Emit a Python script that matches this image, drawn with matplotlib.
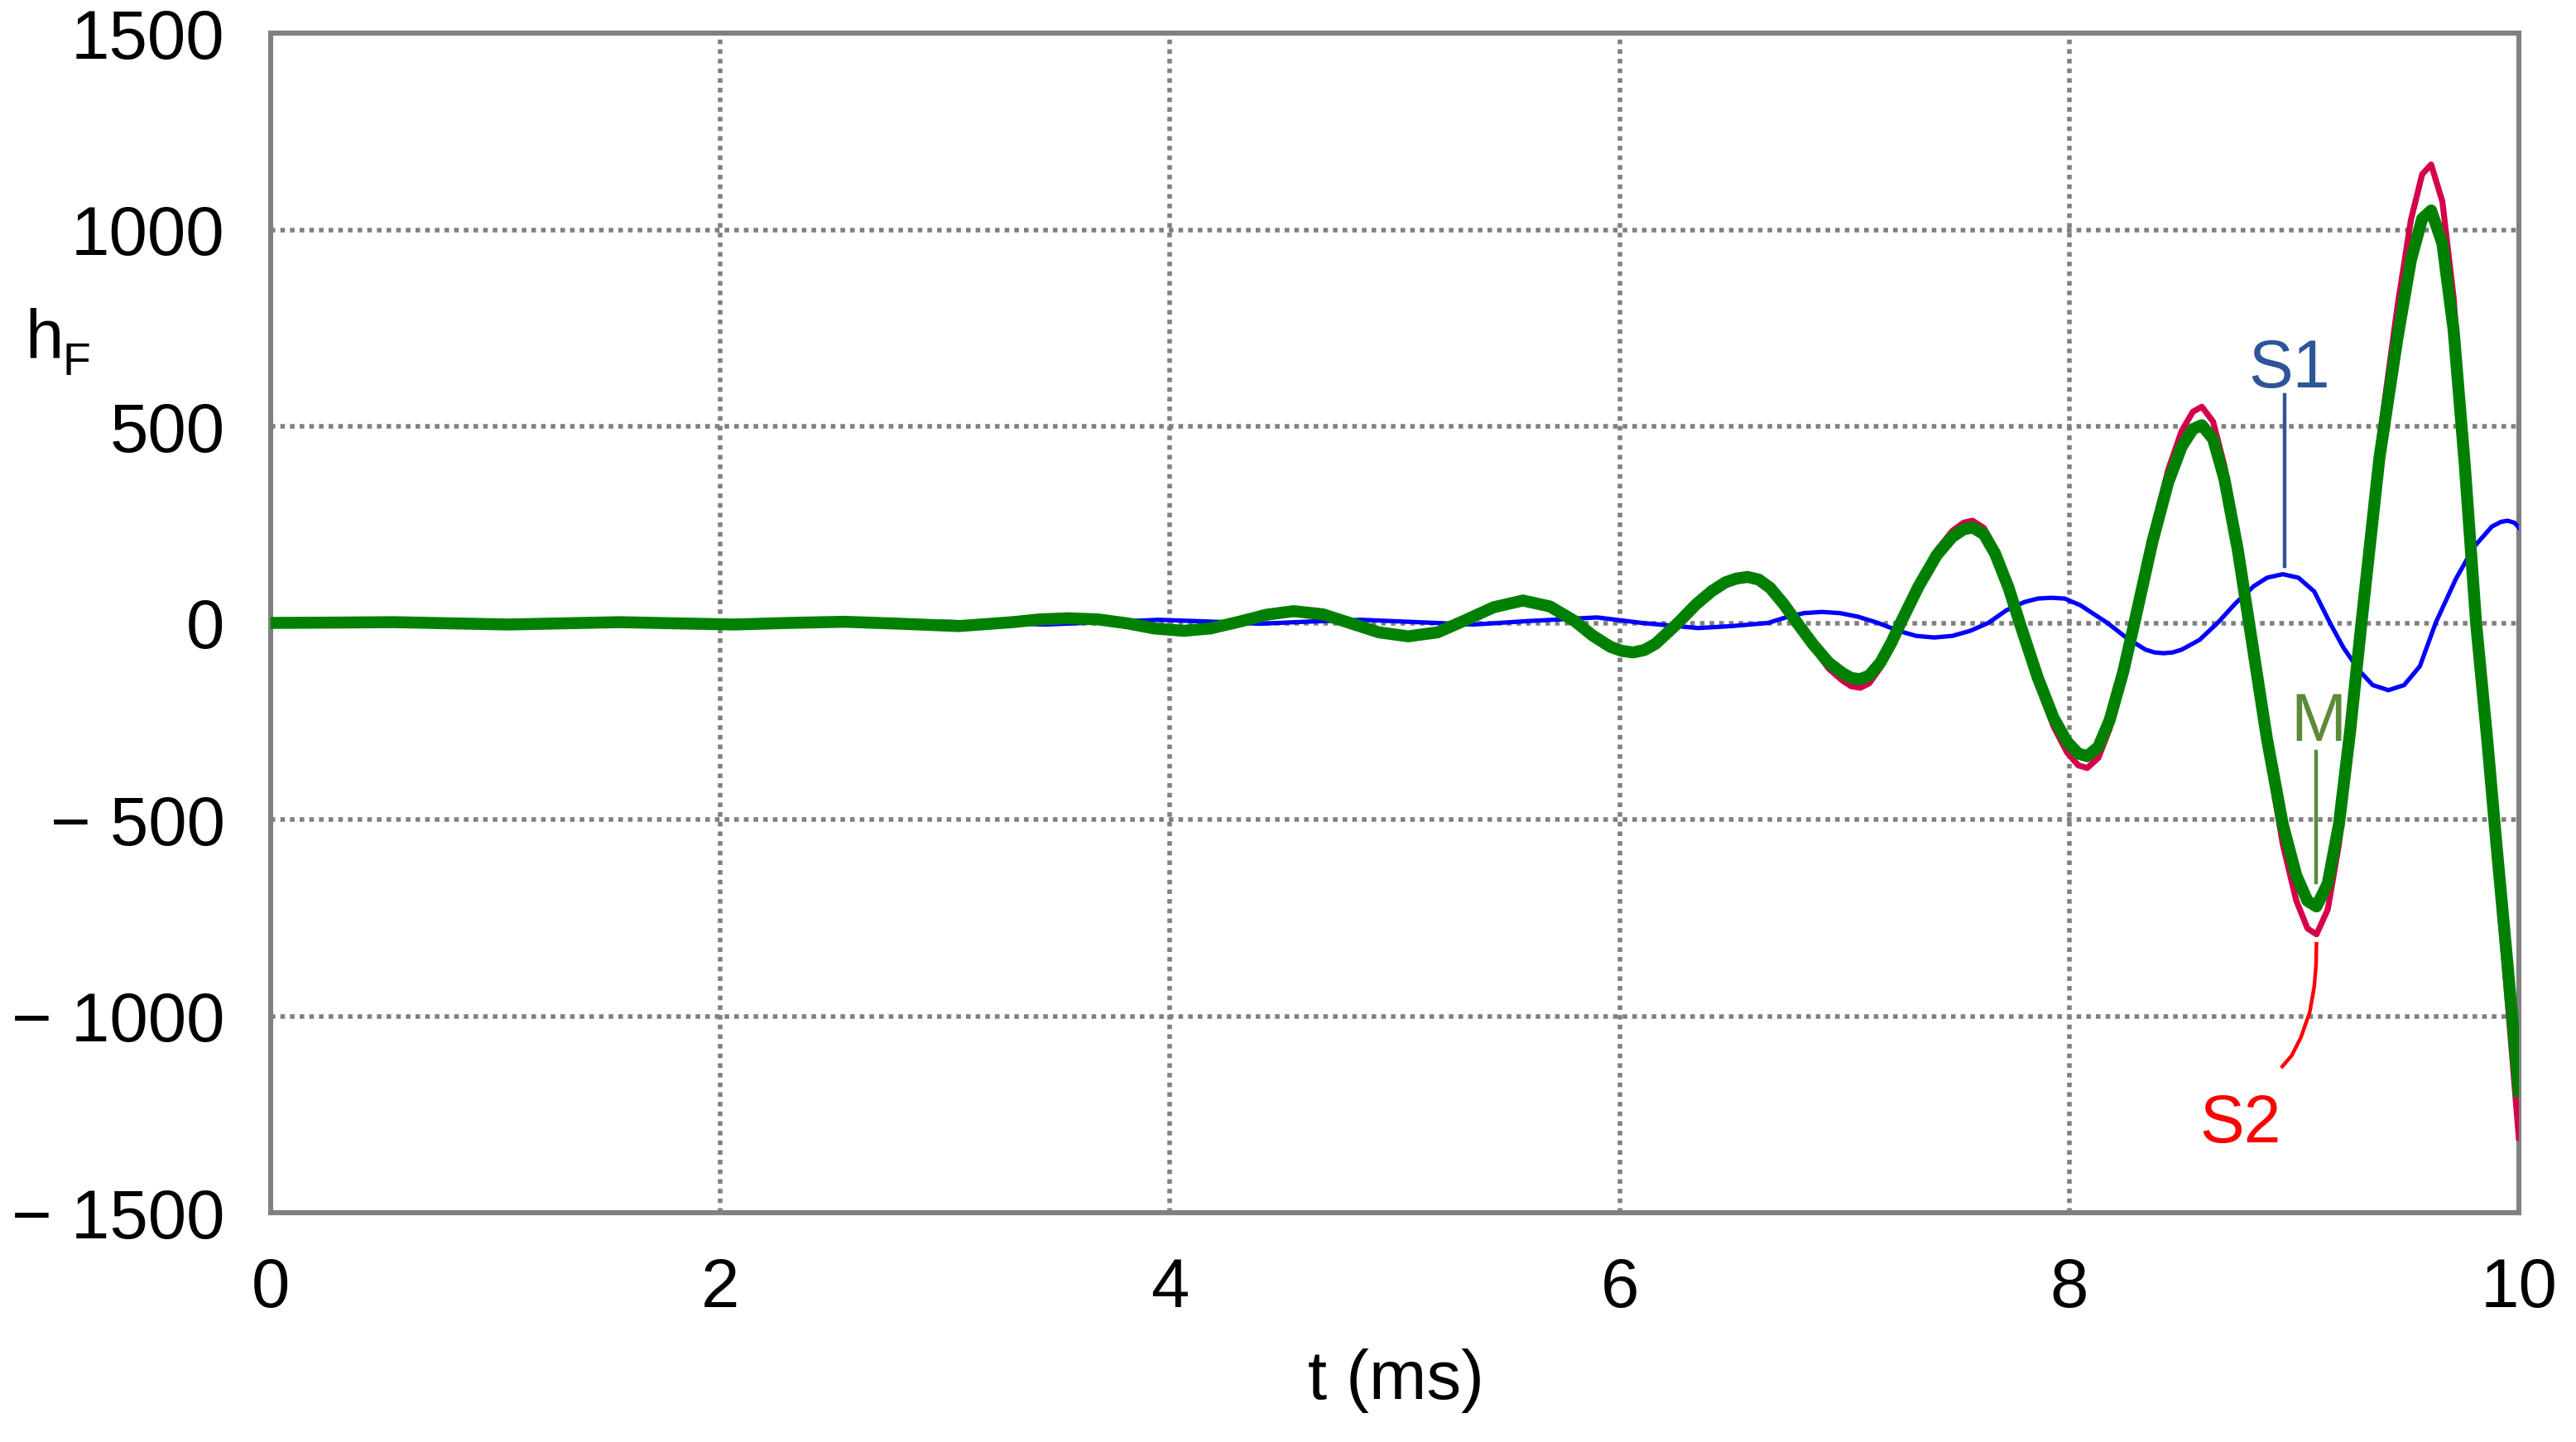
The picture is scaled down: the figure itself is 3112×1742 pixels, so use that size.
import matplotlib
matplotlib.use('Agg')
import matplotlib.pyplot as plt

plt.rcParams['font.family'] = ['Liberation Sans', 'DejaVu Sans']

# --- data (t in ms, h_F) ---
# M (thick green) and S2 (thin red) share the same sample times
t_m = [0.00, 0.30, 0.55, 0.80, 1.06, 1.30, 1.55, 1.80, 2.06, 2.30, 2.55, 2.80,
       3.06, 3.30, 3.42, 3.55, 3.68, 3.81, 3.93, 4.06, 4.18, 4.30, 4.43, 4.55,
       4.68, 4.80, 4.93, 5.06, 5.19, 5.31, 5.44, 5.57, 5.69, 5.80, 5.88, 5.96,
       6.01, 6.06, 6.11, 6.16, 6.26, 6.34, 6.41, 6.47, 6.52, 6.57, 6.62, 6.67,
       6.73, 6.79, 6.86, 6.93, 6.99, 7.03, 7.07, 7.11, 7.16, 7.21, 7.25, 7.33,
       7.41, 7.48, 7.53, 7.57, 7.62, 7.67, 7.73, 7.78, 7.86, 7.93, 7.99, 8.04,
       8.08, 8.13, 8.18, 8.24, 8.29, 8.37, 8.44, 8.50, 8.55, 8.59, 8.64, 8.69,
       8.75, 8.80, 8.88, 8.95, 9.01, 9.06, 9.10, 9.15, 9.20, 9.25, 9.30, 9.38,
       9.46, 9.52, 9.57, 9.61, 9.66, 9.71, 9.76, 9.81, 9.86, 9.90, 9.95, 10.0]
h_m = [0, 1, 2, -1, -4, -1, 2, -1, -4, 0, 3, -2,
       -8, 2, 9, 12, 9, -1, -14, -20, -14, 2, 21, 30,
       22, 0, -24, -34, -24, 6, 40, 57, 42, 5, -32, -61,
       -71, -75, -69, -53, 0, 47, 81, 103, 113, 117, 110, 89,
       48, 0, -54, -101, -127, -140, -143, -134, -101, -49, 0, 93,
       172, 219, 238, 243, 226, 177, 90, 0, -139, -241, -302, -332,
       -339, -315, -247, -125, 0, 206, 357, 448, 493, 503, 468, 367,
       186, 0, -296, -512, -642, -707, -721, -663, -512, -274, 0, 420,
       724, 923, 1028, 1049, 965, 745, 399, 0, -300, -560, -870, -1191]
h_s2 = [0, 1, 2, -1, -4, -1, 2, -1, -4, 0, 3, -2,
        -8, 2, 9, 12, 9, -1, -14, -20, -14, 2, 21, 30,
        22, 0, -24, -34, -24, 6, 40, 58, 43, 5, -34, -63,
        -74, -78, -72, -55, 0, 49, 85, 108, 119, 123, 116, 94,
        52, 0, -62, -116, -146, -161, -165, -154, -114, -54, 0, 100,
        184, 234, 255, 260, 242, 190, 97, 0, -151, -263, -329, -362,
        -369, -343, -269, -136, 0, 225, 389, 488, 537, 550, 512, 401,
        203, 0, -325, -563, -706, -777, -792, -729, -563, -301, 0, 466,
        804, 1025, 1141, 1166, 1072, 827, 443, 0, -340, -620, -960, -1309]

# S1 (thin blue)
t_s1 = [0.0, 2.8, 3.0, 3.2, 3.45, 3.7, 3.95, 4.2, 4.4, 4.6, 4.85, 5.1,
        5.35, 5.6, 5.9, 6.1, 6.35, 6.5, 6.66, 6.75, 6.82, 6.90, 6.98, 7.06,
        7.15, 7.24, 7.32, 7.40, 7.48, 7.56, 7.64, 7.72, 7.80, 7.86, 7.92, 7.98,
        8.05, 8.17, 8.26, 8.34, 8.38, 8.42, 8.46, 8.50, 8.58, 8.66, 8.74, 8.82,
        8.88, 8.95, 9.02, 9.09, 9.16, 9.22, 9.29, 9.35, 9.42, 9.49, 9.56, 9.63,
        9.72, 9.80, 9.88, 9.92, 9.95, 9.98, 10.0]
h_s1 = [0, 0, 3, 0, -4, 2, 8, 3, -2, 3, 8, 2,
        -4, 5, 14, 0, -13, -8, 0, 16, 25, 28, 25, 16,
        0, -20, -33, -37, -33, -20, 0, 32, 53, 62, 64, 62,
        45, 0, -40, -68, -75, -77, -75, -68, -43, 0, 50, 93,
        115, 124, 115, 80, 0, -63, -121, -158, -171, -158, -110, 0,
        112, 193, 245, 257, 260, 255, 243]

x_ticks = [0, 2, 4, 6, 8, 10]
y_ticks = [-1500, -1000, -500, 0, 500, 1000, 1500]
y_tick_labels = ['\u2212 1500', '\u2212 1000', '\u2212 500', '0', '500', '1000', '1500']

fig = plt.figure(figsize=(15.56, 8.71), dpi=200)
ax = fig.add_axes([0.1051, 0.1590, 0.8727, 0.8180])

ax.plot(t_s1, h_s1, color='#0000ff', lw=1.9, zorder=3, solid_joinstyle='round')
ax.plot(t_m, h_s2, color='#d4004c', lw=2.6, zorder=4, solid_joinstyle='round')
ax.plot(t_m, h_m, color='#008000', lw=5.2, zorder=5, solid_joinstyle='round')

ax.set_xlim(0, 10)
ax.set_ylim(-1500, 1500)
ax.set_xticks(x_ticks)
ax.set_yticks(y_ticks)
ax.set_yticklabels(y_tick_labels)
ax.tick_params(length=0, labelsize=30)
ax.tick_params(axis='y', pad=20)
ax.tick_params(axis='x', pad=19)

ax.grid(True, color='#808080', linestyle=(0, (1, 1.1)), linewidth=2.0)
for s in ax.spines.values():
    s.set_color('#808080')
    s.set_linewidth(2.2)

# annotations
ax.text(8.98, 600, 'S1', color='#2e5597', fontsize=29, ha='center', va='baseline')
ax.plot([8.96, 8.96], [580, 145], color='#2e5597', lw=1.6)
ax.text(9.11, -300, 'M', color='#5b8a3b', fontsize=29, ha='center', va='baseline')
ax.plot([9.10, 9.10], [-328, -660], color='#5b8a3b', lw=1.6)
ax.text(8.76, -1322, 'S2', color='#ff0000', fontsize=29, ha='center', va='baseline')
ax.plot([9.100, 9.098, 9.09, 9.07, 9.03, 8.99, 8.948],
        [-816, -870, -925, -990, -1055, -1100, -1128], color='#ff0000', lw=1.6)

# axis labels
fig.text(30 / 3112, 1 - 433 / 1742, 'h', fontsize=30, ha='left', va='baseline')
fig.text(76 / 3112, 1 - 453 / 1742, 'F', fontsize=20, ha='left', va='baseline')
fig.text(0.542, 0.030, 't (ms)', fontsize=30, ha='center', va='baseline')

fig.savefig('out.png', dpi=200)
